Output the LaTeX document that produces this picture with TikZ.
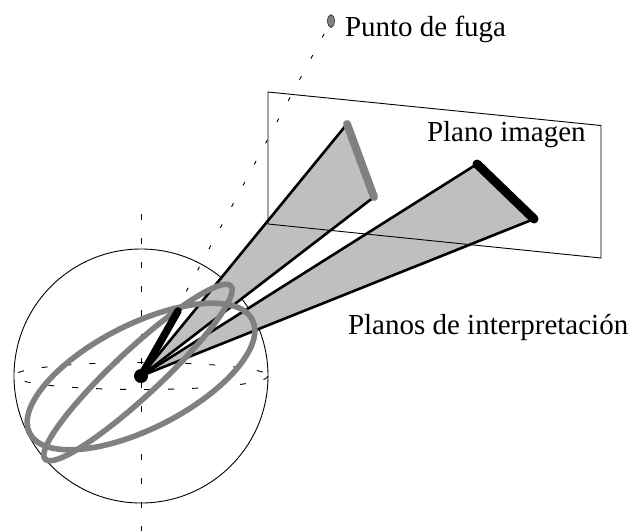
\documentclass[tikz,border=0pt]{standalone}
\usepackage{fontspec}
\setmainfont{Liberation Serif}
\usepackage{xcolor}
\definecolor{planegray}{gray}{0.75}
\definecolor{circlegray}{gray}{0.5}
\begin{document}
\begin{tikzpicture}[x=1pt, y=-1pt, font=\fontsize{29}{32}\selectfont,
      thin line/.style={draw=black, line width=0.9pt},
      axis dash/.style={thin line, dash pattern=on 6pt off 18pt},
      ray dash/.style={thin line, dash pattern=on 4pt off 20pt},
      ray/.style={draw=black, line width=2.6pt, line cap=round},
      great circle/.style={draw=circlegray, line width=5.6pt},
      label/.style={anchor=base west, inner sep=0pt, outer sep=0pt}
    ]
    \useasboundingbox (0,0) rectangle (631,531);

    \coordinate (o) at (141,376);
    \coordinate (fuga) at (331,21);
    \coordinate (a1) at (347,124);
    \coordinate (a2) at (374,197);
    \coordinate (b1) at (477,164);
    \coordinate (b2) at (534,219);
    \coordinate (c) at (178,311);
    \coordinate (vtop) at (141,214);
    \coordinate (vbot) at (141,531);
    \coordinate (p1) at (268,92);
    \coordinate (p2) at (601,125.5);
    \coordinate (p3) at (601,258);
    \coordinate (p4) at (268,224);

    % esfera y ejes
    \draw[thin line] (o) circle[radius=127];
    \draw[axis dash] (vtop) -- (vbot);
    \draw[axis dash] (o) ellipse[x radius=127, y radius=13.5];
    \draw[ray dash] (o) -- (fuga);

    % planos de interpretacion
    \fill[planegray] (o) -- (a1) -- (a2) -- cycle;
    \fill[planegray] (o) -- (b1) -- (b2) -- cycle;
    \draw[thin line] (p1) -- (p2) -- (p3) -- (p4) -- cycle;
    \foreach \e in {a1,a2,b1,b2}{ \draw[ray] (o) -- (\e); }

    % circulos maximos
    \draw[great circle] (141,376.5) ellipse[x radius=125, y radius=52, rotate=27];
    \draw[great circle] (138,372.5) ellipse[x radius=127, y radius=23, rotate=43];

    % segmentos imagen
    \draw[draw=circlegray, line width=8pt, line cap=round] (a1) -- (a2);
    \draw[line width=9pt, line cap=round] (b1) -- (b2);
    \draw[line width=7.5pt, line cap=round] (o) -- (c);
    \fill (o) circle[radius=7];

    \filldraw[fill=circlegray, draw=black, line width=0.4pt] (fuga) ellipse[x radius=3.5, y radius=6.5];

    \node[label] (lfuga) at (345,36) {Punto de fuga};
    \node[label] (limagen) at (427,141) {Plano imagen};
    \node[label] (linterp) at (348,334) {Planos de interpretación};
  \end{tikzpicture}
\end{document}
